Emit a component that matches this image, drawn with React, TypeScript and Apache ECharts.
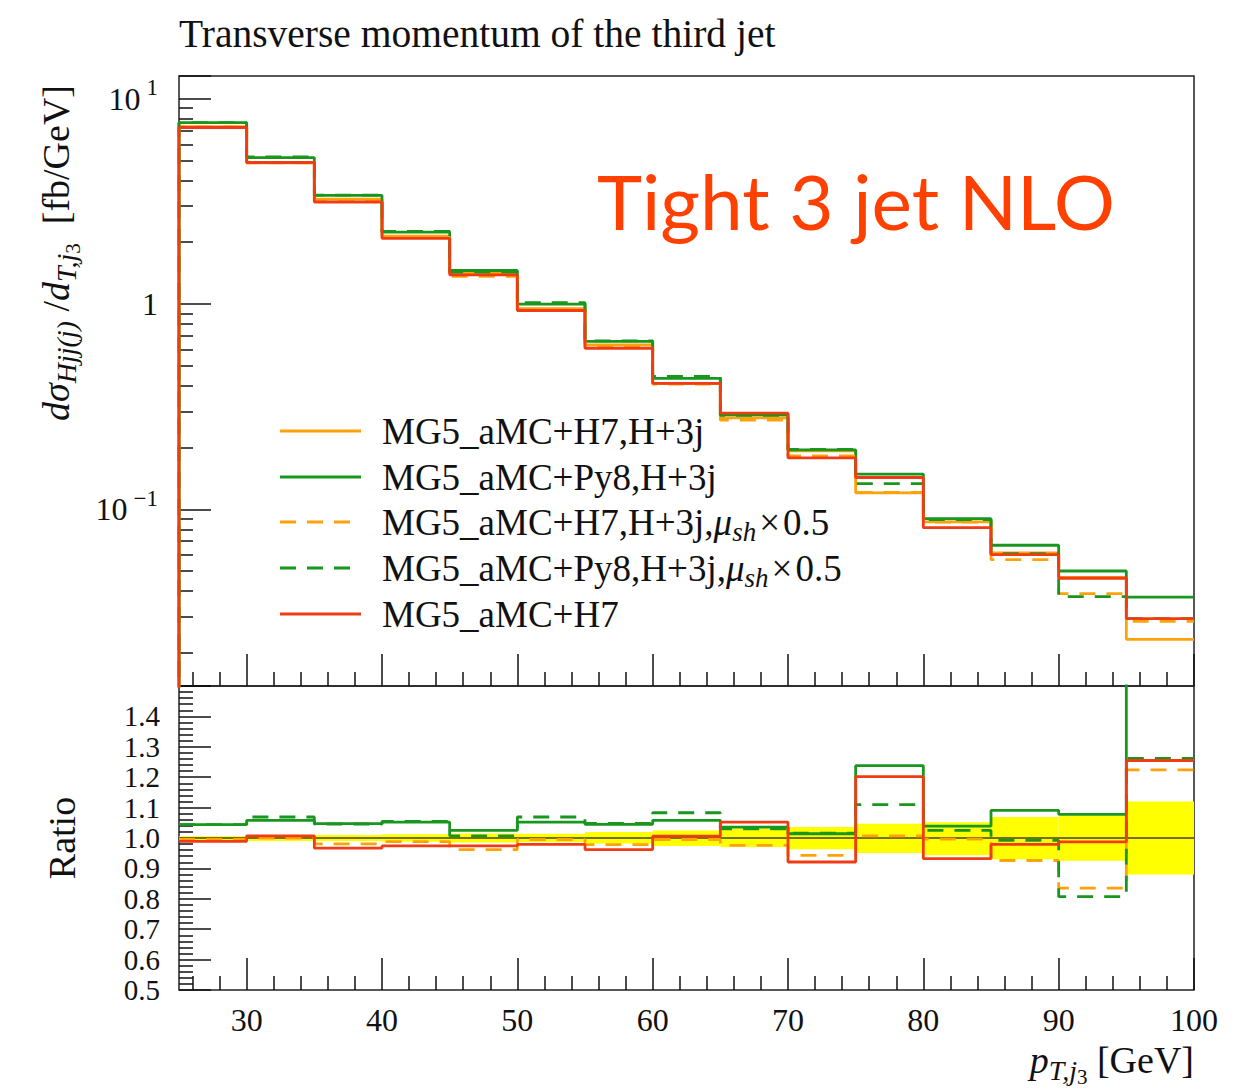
import React, { useEffect, useRef } from 'react';
import * as echarts from 'echarts';

// ---------- data ----------
const binEdges = [25, 30, 35, 40, 45, 50, 55, 60, 65, 70, 75, 80, 85, 90, 95, 100];
const xMajorTicks = [30, 40, 50, 60, 70, 80, 90, 100];
const xMinorTicks = [26, 28, 32, 34, 36, 38, 42, 44, 46, 48, 52, 54, 56, 58, 62, 64, 66, 68, 72, 74, 76, 78, 82, 84, 86, 88, 92, 94, 96, 98];

const legendNames = [
  'MG5_aMC+H7,H+3j',
  'MG5_aMC+Py8,H+3j',
  'MG5_aMC+H7,H+3j,μsh×0.5',
  'MG5_aMC+Py8,H+3j,μsh×0.5',
  'MG5_aMC+H7',
];

// top panel: dσ/dpT [fb/GeV]
const h7H3j = [7.32, 4.87, 3.24, 2.14, 1.42, 0.95, 0.632, 0.41, 0.279, 0.193, 0.1204, 0.087, 0.0614, 0.0466, 0.0233];
const py8H3j = [7.64, 5.17, 3.38, 2.24, 1.457, 1.0, 0.658, 0.4345, 0.289, 0.195, 0.1486, 0.0901, 0.0669, 0.0501, 0.0374];
const h7H3jHalf = [7.28, 4.87, 3.18, 2.11, 1.366, 0.945, 0.618, 0.408, 0.272, 0.182, 0.121, 0.0867, 0.0569, 0.0389, 0.0285];
const py8H3jHalf = [7.64, 5.21, 3.39, 2.26, 1.43, 1.016, 0.662, 0.444, 0.287, 0.196, 0.1336, 0.0892, 0.0609, 0.0376, 0.0294];
const h7 = [7.24, 4.89, 3.14, 2.09, 1.388, 0.93, 0.609, 0.411, 0.294, 0.178, 0.143, 0.0815, 0.0602, 0.0462, 0.0294];

// ratio panel
const ratioH7H3j = [1, 1, 1, 1, 1, 1, 1, 1, 1, 1, 1, 1, 1, 1, 1];
const ratioPy8H3j = [1.044, 1.058, 1.047, 1.052, 1.025, 1.052, 1.045, 1.058, 1.036, 1.014, 1.238, 1.039, 1.091, 1.078, 1.6];
const ratioH7H3jHalf = [0.995, 1.0, 0.981, 0.988, 0.962, 0.995, 0.978, 0.995, 0.976, 0.943, 1.007, 0.996, 0.926, 0.835, 1.224];
const ratioPy8H3jHalf = [1.044, 1.069, 1.046, 1.055, 1.007, 1.069, 1.048, 1.083, 1.03, 1.016, 1.11, 1.025, 0.992, 0.807, 1.262];
const ratioH7 = [0.989, 1.007, 0.967, 0.974, 0.974, 0.979, 0.962, 1.006, 1.052, 0.921, 1.202, 0.932, 0.979, 0.987, 1.255];
const bandLow = [0.993, 0.99, 0.99, 0.988, 0.985, 0.987, 0.982, 0.974, 0.97, 0.963, 0.951, 0.943, 0.93, 0.925, 0.88];
const bandHigh = [1.006, 1.01, 1.01, 1.012, 1.015, 1.014, 1.02, 1.025, 1.031, 1.036, 1.047, 1.052, 1.069, 1.074, 1.12];

// ---------- styling ----------
const SERIF = "'Liberation Serif', 'DejaVu Serif', serif";
const ORANGE = '#ffa20a';
const GREEN = '#19961e';
const RED = '#f03c14';
const DASH = [16, 11];
const LW = 2.8;

const seriesStyles = [
  { color: ORANGE, type: 'solid' as any },
  { color: GREEN, type: 'solid' as any },
  { color: ORANGE, type: DASH as any },
  { color: GREEN, type: DASH as any },
  { color: RED, type: 'solid' as any },
];

function stepData(vals: number[], startLow?: number) {
  const pts: number[][] = [];
  if (startLow !== undefined) pts.push([binEdges[0], startLow]);
  vals.forEach((v, i) => pts.push([binEdges[i], v]));
  pts.push([binEdges[binEdges.length - 1], vals[vals.length - 1]]);
  return pts;
}

const tickStyle = { color: '#111', width: 1.5 };

function buildOption() {
  const topVals = [h7H3j, py8H3j, h7H3jHalf, py8H3jHalf, h7];
  const ratioVals = [ratioH7H3j, ratioPy8H3j, ratioH7H3jHalf, ratioPy8H3jHalf, ratioH7];

  const series: any[] = [];
  topVals.forEach((vals, i) => {
    series.push({
      name: legendNames[i],
      type: 'line',
      xAxisIndex: 0,
      yAxisIndex: 0,
      step: 'end',
      symbol: 'none',
      silent: true,
      clip: true,
      z: 3 + i,
      lineStyle: { color: seriesStyles[i].color, width: LW, type: seriesStyles[i].type },
      data: stepData(vals, 0.001),
    });
  });

  series.push({
    type: 'custom',
    xAxisIndex: 2,
    yAxisIndex: 1,
    silent: true,
    clip: true,
    z: 1,
    encode: { x: [0, 1], y: [2, 3] },
    data: bandLow.map((lo, i) => [binEdges[i], binEdges[i + 1], lo, bandHigh[i]]),
    renderItem: (params: any, api: any) => {
      const p0 = api.coord([api.value(0), api.value(3)]);
      const p1 = api.coord([api.value(1), api.value(2)]);
      return {
        type: 'rect',
        shape: { x: p0[0], y: p0[1], width: p1[0] - p0[0], height: p1[1] - p0[1] },
        style: { fill: '#ffff00' },
      };
    },
  });

  ratioVals.forEach((vals, i) => {
    series.push({
      name: legendNames[i],
      type: 'line',
      xAxisIndex: 2,
      yAxisIndex: 1,
      step: 'end',
      symbol: 'none',
      silent: true,
      clip: true,
      z: 3 + i,
      lineStyle: {
        color: i === 0 ? '#77700a' : seriesStyles[i].color,
        width: i === 0 ? 2.2 : LW,
        type: seriesStyles[i].type,
      },
      data: stepData(vals),
    });
  });

  const legendRowsY = [431, 477, 522, 568, 614];
  const legRich = {
    it: { fontFamily: SERIF, fontSize: 37, fontStyle: 'italic', fill: '#111' },
    sub: { fontFamily: SERIF, fontSize: 27, fontStyle: 'italic', fill: '#111', padding: [20, 0, 0, 0] },
    x: { fontFamily: SERIF, fontSize: 37, fill: '#111', padding: [0, 3, 0, 3] },
  };
  const legendTexts = [
    'MG5_aMC+H7,H+3j',
    'MG5_aMC+Py8,H+3j',
    'MG5_aMC+H7,H+3j,{it|μ}{sub|sh}{x|×}0.5',
    'MG5_aMC+Py8,H+3j,{it|μ}{sub|sh}{x|×}0.5',
    'MG5_aMC+H7',
  ];

  const graphics: any[] = [];
  legendRowsY.forEach((y, i) => {
    graphics.push({
      type: 'line',
      silent: true,
      shape: { x1: 280, y1: y, x2: 361, y2: y },
      style: {
        stroke: seriesStyles[i].color,
        lineWidth: LW,
        lineDash: Array.isArray(seriesStyles[i].type) ? seriesStyles[i].type : null,
      },
    });
    graphics.push({
      type: 'text',
      silent: true,
      x: 382,
      y: y,
      style: {
        text: legendTexts[i],
        fontFamily: SERIF,
        fontSize: 37,
        fill: '#111',
        align: 'left',
        verticalAlign: 'middle',
        textAlign: 'left',
        textVerticalAlign: 'middle',
        rich: legRich,
      },
    });
  });

  // title
  graphics.push({
    type: 'text',
    silent: true,
    x: 179,
    y: 34,
    style: {
      text: 'Transverse momentum of the third jet',
      fontFamily: SERIF,
      fontSize: 39.5,
      fill: '#111',
      align: 'left',
      verticalAlign: 'middle',
      textAlign: 'left',
      textVerticalAlign: 'middle',
    },
  });
  // annotation
  graphics.push({
    type: 'text',
    silent: true,
    x: 597,
    y: 200,
    style: {
      text: 'Tight 3 jet NLO',
      fontFamily: "Lato, 'Noto Sans', sans-serif",
      fontSize: 76.5,
      fill: '#ff4000',
      align: 'left',
      verticalAlign: 'middle',
      textAlign: 'left',
      textVerticalAlign: 'middle',
    },
  });
  // y title (top)
  const axRich = {
    it: { fontFamily: SERIF, fontSize: 38, fontStyle: 'italic', fill: '#111' },
    n: { fontFamily: SERIF, fontSize: 38, fill: '#111' },
    sub: { fontFamily: SERIF, fontSize: 28, fontStyle: 'italic', fill: '#111', padding: [20, 0, 0, 0] },
    subsub: { fontFamily: SERIF, fontSize: 21, fill: '#111', padding: [34, 0, 0, 0] },
  };
  graphics.push({
    type: 'text',
    silent: true,
    x: 56,
    y: 253,
    rotation: Math.PI / 2,
    style: {
      text: '{it|dσ}{sub|Hjj(j)}{n| /}{it|d}{sub|T,j}{subsub|3}{n|  [fb/GeV]}',
      fontFamily: SERIF,
      fontSize: 38,
      fill: '#111',
      align: 'center',
      verticalAlign: 'middle',
      textAlign: 'center',
      textVerticalAlign: 'middle',
      rich: axRich,
    },
  });
  // y title (ratio)
  graphics.push({
    type: 'text',
    silent: true,
    x: 62,
    y: 838,
    rotation: Math.PI / 2,
    style: {
      text: 'Ratio',
      fontFamily: SERIF,
      fontSize: 38,
      fill: '#111',
      align: 'center',
      verticalAlign: 'middle',
      textAlign: 'center',
      textVerticalAlign: 'middle',
    },
  });
  // x title
  graphics.push({
    type: 'text',
    silent: true,
    x: 1194,
    y: 1060,
    style: {
      text: '{it|p}{sub|T,j}{subsub|3}{n| [GeV]}',
      fontFamily: SERIF,
      fontSize: 37,
      fill: '#111',
      align: 'right',
      verticalAlign: 'middle',
      textAlign: 'right',
      textVerticalAlign: 'middle',
      rich: axRich,
    },
  });

  const xAxisCommon = (gridIndex: number) => ({
    gridIndex,
    type: 'value',
    min: 25,
    max: 100,
    position: 'bottom',
    axisLine: { show: false },
    splitLine: { show: false },
  });

  const labelStyle = { fontFamily: SERIF, fontSize: 32, color: '#111' };

  return {
    animation: false,
    backgroundColor: '#ffffff',
    grid: [
      { left: 179, top: 76, width: 1015, height: 610, show: true, borderColor: '#222', borderWidth: 1.5, backgroundColor: 'transparent' },
      { left: 179, top: 686, width: 1015, height: 304, show: true, borderColor: '#222', borderWidth: 1.5, backgroundColor: 'transparent' },
    ],
    xAxis: [
      {
        ...xAxisCommon(0),
        axisTick: { show: true, inside: true, length: 32, customValues: xMajorTicks, lineStyle: tickStyle },
        axisLabel: { show: false },
      },
      {
        ...xAxisCommon(0),
        axisTick: { show: true, inside: true, length: 14, customValues: xMinorTicks, lineStyle: tickStyle },
        axisLabel: { show: false },
      },
      {
        ...xAxisCommon(1),
        axisTick: { show: true, inside: true, length: 32, customValues: xMajorTicks, lineStyle: tickStyle },
        axisLabel: { show: true, customValues: xMajorTicks, margin: 14, ...labelStyle },
      },
      {
        ...xAxisCommon(1),
        axisTick: { show: true, inside: true, length: 14, customValues: xMinorTicks, lineStyle: tickStyle },
        axisLabel: { show: false },
      },
    ],
    yAxis: [
      {
        gridIndex: 0,
        type: 'log',
        logBase: 10,
        min: 0.0138,
        max: 12.9,
        axisLine: { show: false },
        splitLine: { show: false },
        minorSplitLine: { show: false },
        axisTick: { show: true, inside: true, length: 32, lineStyle: tickStyle },
        minorTick: { show: true, splitNumber: 9, length: 14, lineStyle: tickStyle },
        axisLabel: {
          show: true,
          margin: 21,
          showMinLabel: false,
          showMaxLabel: false,
          ...labelStyle,
          formatter: (v: number) => {
            const lg = Math.log10(v);
            const e = Math.round(lg);
            if (Math.abs(lg - e) > 1e-6) return '';
            if (e === 0) return '{n|1}';
            return '{n|10}{sup|' + (e < 0 ? '−' : '') + Math.abs(e) + '}';
          },
          rich: {
            n: { fontFamily: SERIF, fontSize: 32, color: '#111' },
            sup: { fontFamily: SERIF, fontSize: 23, color: '#111', padding: [0, 0, 22, 6] },
          },
        },
      },
      {
        gridIndex: 1,
        type: 'value',
        min: 0.5,
        max: 1.5,
        interval: 0.1,
        axisLine: { show: false },
        splitLine: { show: false },
        minorSplitLine: { show: false },
        axisTick: { show: true, inside: true, length: 32, lineStyle: tickStyle },
        minorTick: { show: true, splitNumber: 5, length: 14, lineStyle: tickStyle },
        axisLabel: {
          show: true,
          margin: 19,
          showMinLabel: true,
          showMaxLabel: false,
          hideOverlap: false,
          fontFamily: SERIF,
          fontSize: 29,
          lineHeight: 27,
          color: '#111',
          formatter: (v: number) => (v > 1.45 ? '' : v.toFixed(1)),
        },
      },
    ],
    series,
    graphic: { elements: graphics },
  };
}

export default function App() {
  const ref = useRef<HTMLDivElement>(null);
  useEffect(() => {
    if (!ref.current) return;
    const chart = echarts.init(ref.current, undefined, { renderer: 'svg' });
    chart.setOption(buildOption() as any);
    return () => {
      chart.dispose();
    };
  }, []);
  return (
    <div
      ref={ref}
      style={{ position: 'absolute', left: 0, top: 0, width: 1257, height: 1089, background: '#fff' }}
    />
  );
}
